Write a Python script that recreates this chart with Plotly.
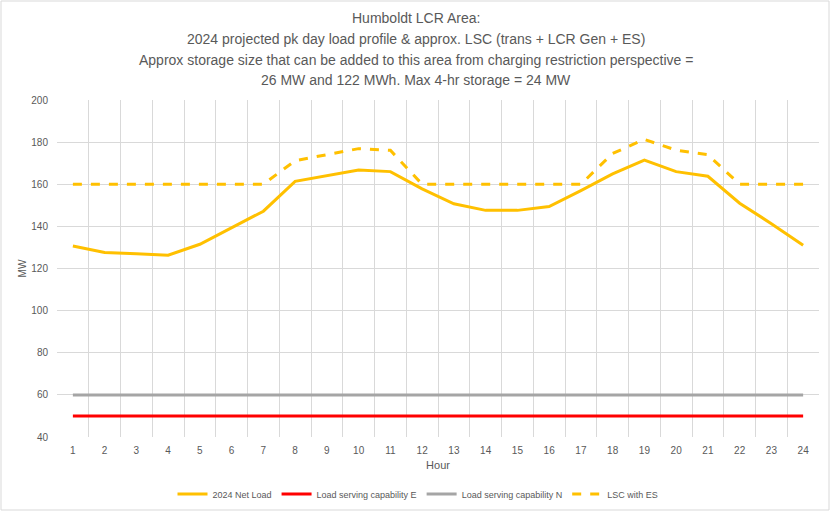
import plotly.graph_objects as go

hours = list(range(1, 25))
net_load = [130.7, 127.6, 127.0, 126.3, 131.5, 139.5, 147.2, 161.4, 164.1, 166.8, 166.0, 157.8,
            150.7, 147.6, 147.6, 149.4, 157.0, 164.9, 171.5, 166.0, 163.8, 151.0, 141.3, 131.0]
lsc_e = [50] * 24
lsc_n = [60] * 24
lsc_es = [160, 160, 160, 160, 160, 160, 160, 171.2, 174.0, 176.9, 176.1, 160,
          160, 160, 160, 160, 160, 174.6, 181.3, 176.2, 174.0, 160, 160, 160]

title_lines = [
    "Humboldt LCR Area:",
    "2024 projected pk day load profile & approx. LSC (trans + LCR Gen + ES)",
    "Approx storage size that can be added to this area from charging restriction perspective =",
    "26 MW and 122 MWh. Max 4-hr storage = 24 MW",
]

FONT = "Liberation Sans"
TXT = "#595959"
GRID = "#d9d9d9"

PL, PR, PT, PB = 57, 819, 100, 437
PW, PH = PR - PL, PB - PT


def px_x(x):
    return (x - PL) / PW


def px_y(y):
    return 1 + (PT - y) / PH


fig = go.Figure()
fig.add_trace(go.Scatter(x=hours, y=net_load, name="2024 Net Load", mode="lines",
                         line=dict(color="#FFC000", width=3)))
fig.add_trace(go.Scatter(x=hours, y=lsc_e, name="Load serving capability E", mode="lines",
                         line=dict(color="#FF0000", width=3)))
fig.add_trace(go.Scatter(x=hours, y=lsc_n, name="Load serving capability N", mode="lines",
                         line=dict(color="#A5A5A5", width=3)))
fig.add_trace(go.Scatter(x=hours, y=lsc_es, name="LSC with ES", mode="lines",
                         line=dict(color="#FFC000", width=3, dash="dash")))

title_y = [18, 39, 60, 80]
annotations = [
    dict(text=t, xref="paper", yref="paper", x=px_x(416), y=px_y(yy), xanchor="center",
         yanchor="middle", showarrow=False, font=dict(family=FONT, size=14, color=TXT))
    for t, yy in zip(title_lines, title_y)
]

fig.update_layout(
    width=831, height=512,
    margin=dict(l=PL, r=831 - PR, t=PT, b=512 - PB, autoexpand=False),
    paper_bgcolor="white", plot_bgcolor="white",
    font=dict(family=FONT, color=TXT, size=10),
    showlegend=True,
    legend=dict(orientation="h", x=px_x(418), xanchor="center", y=px_y(494), yanchor="middle",
                font=dict(size=9, color=TXT), itemwidth=30, tracegroupgap=0),
    xaxis=dict(range=[0.5, 24.5], tickmode="array", tickvals=hours,
               ticktext=[str(h) for h in hours], showgrid=False, zeroline=False,
               showline=False, ticks="", tickfont=dict(size=10, color=TXT),
               ticklabelstandoff=6, automargin=False,
               title=dict(text="Hour", font=dict(size=11, color=TXT), standoff=6),
               minor=dict(tickmode="array", tickvals=[h - 0.5 for h in hours] + [24.5],
                          showgrid=True, gridcolor=GRID, gridwidth=1, ticks="")),
    yaxis=dict(range=[40, 200], dtick=20, showgrid=True, gridcolor=GRID, gridwidth=1,
               zeroline=False, showline=False, ticks="", tickfont=dict(size=10, color=TXT),
               ticklabelstandoff=8, automargin=False,
               title=dict(text="MW", font=dict(size=10, color=TXT), standoff=2)),
    annotations=annotations,
    shapes=[dict(type="rect", xref="paper", yref="paper", x0=px_x(1), x1=px_x(829),
                 y0=px_y(510), y1=px_y(1), line=dict(color=GRID, width=1))],
)

fig.write_html("out.html", config={"displayModeBar": False},
               post_script="document.body.style.margin='0';document.body.style.overflow='hidden';")
